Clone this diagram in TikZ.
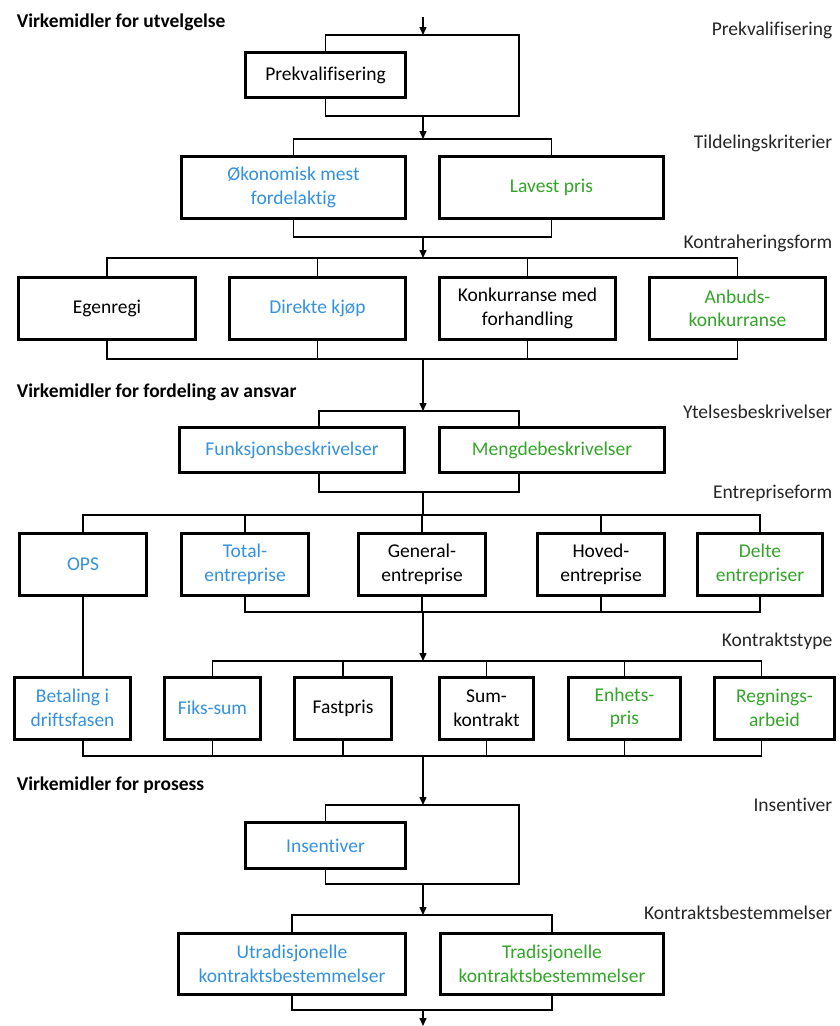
\documentclass[tikz,border=0pt]{standalone}
\usepackage{fontspec}
\setmainfont{Carlito}[Ligatures=NoCommon]
\usetikzlibrary{positioning,arrows.meta}
\definecolor{txtblue}{RGB}{52,145,222}
\definecolor{txtgreen}{RGB}{50,165,40}

\begin{document}
\begin{tikzpicture}[
    x=1pt, y=-1pt, line width=1.5pt,
    font=\fontsize{19.5}{23.5}\selectfont, >={Triangle[length=8pt,width=7pt]},
    blk/.style={draw, line width=3pt, align=center, inner sep=0pt, minimum height=62pt},
    hd/.style={anchor=west, inner sep=0pt, font=\fontsize{19.5}{23.5}\selectfont\bfseries},
    lbl/.style={anchor=east, inner sep=0pt, text=black!85}]
  \useasboundingbox (0,0) rectangle (839,1026);

  \node[hd] (h1) at (16,22) {Virkemidler for utvelgelse};
  \node[hd] (h2) at (16,392) {Virkemidler for fordeling av ansvar};
  \node[hd] (h3) at (16,785) {Virkemidler for prosess};

  \node[lbl] (l1) at (833,30) {Prekvalifisering};
  \node[lbl] (l2) at (833,143) {Tildelingskriterier};
  \node[lbl] (l3) at (833,243) {Kontraheringsform};
  \node[lbl] (l4) at (833,412) {Ytelsesbeskrivelser};
  \node[lbl] (l5) at (833,493) {Entrepriseform};
  \node[lbl] (l6) at (833,641) {Kontraktstype};
  \node[lbl] (l7) at (833,805) {Insentiver};
  \node[lbl] (l8) at (833,913) {Kontraktsbestemmelser};

  \node[blk, minimum width=160pt, minimum height=45pt] (prek) at (325.5,75) {Prekvalifisering};
  \node[blk, minimum width=224pt, text=txtblue] (okon) at (293.5,187.5) {Økonomisk mest\\fordelaktig};
  \node[blk, minimum width=224pt, text=txtgreen] (lav) at (551.5,187.5) {Lavest pris};

  \node[blk, minimum width=177pt] (egen) at (107,308.5) {Egenregi};
  \node[blk, minimum width=176pt, text=txtblue] (dir) at (317.5,308.5) {Direkte kjøp};
  \node[blk, minimum width=176pt] (konk) at (527.5,308.5) {Konkurranse med\\forhandling};
  \node[blk, minimum width=176pt, text=txtgreen] (anb) at (737.5,308.5) {Anbuds-\\konkurranse};

  \node[blk, minimum width=225pt, minimum height=45pt, text=txtblue] (funk) at (292,450) {Funksjonsbeskrivelser};
  \node[blk, minimum width=225pt, minimum height=45pt, text=txtgreen] (meng) at (552,450) {Mengdebeskrivelser};

  \node[blk, minimum width=127pt, text=txtblue] (ops) at (83,564.5) {OPS};
  \node[blk, minimum width=127pt, text=txtblue] (total) at (245,564.5) {Total-\\entreprise};
  \node[blk, minimum width=127pt] (gen) at (422,564.5) {General-\\entreprise};
  \node[blk, minimum width=127pt] (hov) at (601,564.5) {Hoved-\\entreprise};
  \node[blk, minimum width=125pt, text=txtgreen] (delte) at (760,564.5) {Delte\\entrepriser};

  \node[blk, minimum width=116pt, text=txtblue] (betal) at (72.5,708) {Betaling i\\driftsfasen};
  \node[blk, minimum width=96pt, text=txtblue] (fiks) at (212.5,708) {Fiks-sum};
  \node[blk, minimum width=97pt] (fast) at (343,708) {Fastpris};
  \node[blk, minimum width=94pt] (sum) at (486.5,708) {Sum-\\kontrakt};
  \node[blk, minimum width=112pt, text=txtgreen] (enh) at (624.5,708) {Enhets-\\pris};
  \node[blk, minimum width=120pt, text=txtgreen] (regn) at (774.5,708) {Regnings-\\arbeid};

  \node[blk, minimum width=160pt, minimum height=46pt, text=txtblue] (ins) at (325.5,845.5) {Insentiver};
  \node[blk, minimum width=227pt, minimum height=61pt, text=txtblue] (utr) at (292,964) {Utradisjonelle\\kontraktsbestemmelser};
  \node[blk, minimum width=223pt, minimum height=61pt, text=txtgreen] (trad) at (552,964) {Tradisjonelle\\kontraktsbestemmelser};

  \coordinate (c0) at (423,17);
  \coordinate (p1) at (423,35);  \coordinate (pt) at (519,35);
  \coordinate (p2) at (423,116); \coordinate (pb) at (519,116);
  \coordinate (t2) at (423,139); \coordinate (b2) at (423,237);
  \coordinate (t3) at (423,258); \coordinate (b3) at (423,359);
  \coordinate (ty) at (423,411); \coordinate (by) at (423,492);
  \coordinate (yl) at (319,411); \coordinate (yr) at (519,411);
  \coordinate (yl2) at (319,492); \coordinate (yr2) at (519,492);
  \coordinate (te) at (423,515); \coordinate (be) at (423,612);
  \coordinate (tk) at (423,661); \coordinate (bk) at (423,756);
  \coordinate (ti) at (423,805); \coordinate (it) at (519,805);
  \coordinate (bi) at (423,884); \coordinate (ib) at (519,884);
  \coordinate (tb) at (423,915); \coordinate (bb) at (423,1010);
  \coordinate (cend) at (423,1026);

  \draw[->] (c0) -- (p1);
  \draw (prek.north) |- (pt) -- (pb) -| (prek.south);
  \draw[->] (p2) -- (t2);

  \draw (okon.north) |- (t2) -| (lav.north);
  \draw (okon.south) |- (b2) -| (lav.south);
  \draw[->] (b2) -- (t3);

  \draw (egen.north) |- (t3) -| (anb.north);
  \draw (dir.north) -- (dir.north |- t3);
  \draw (konk.north) -- (konk.north |- t3);
  \draw (egen.south) |- (b3) -| (anb.south);
  \draw (dir.south) -- (dir.south |- b3);
  \draw (konk.south) -- (konk.south |- b3);
  \draw[->] (b3) -- (ty);

  \draw (yl |- funk.north) -- (yl) -- (yr) -- (yr |- meng.north);
  \draw (yl2 |- funk.south) -- (yl2) -- (yr2) -- (yr2 |- meng.south);
  \draw (by) -- (te);

  \draw (ops.north) |- (te) -| (delte.north);
  \draw (total.north) -- (total.north |- te);
  \draw (gen.north) -- (gen.north |- te);
  \draw (hov.north) -- (hov.north |- te);
  \draw (total.south) |- (be) -| (delte.south);
  \draw (gen.south) -- (gen.south |- be);
  \draw (hov.south) -- (hov.south |- be);
  \draw (ops.south) -- (ops.south |- betal.north);
  \draw[->] (be) -- (tk);

  \draw (fiks.north) |- (tk) -| ([xshift=-13pt]regn.north);
  \draw (fast.north) -- (fast.north |- tk);
  \draw (sum.north) -- (sum.north |- tk);
  \draw (enh.north) -- (enh.north |- tk);
  \draw (ops.south |- betal.south) |- (bk) -| ([xshift=-13pt]regn.south);
  \draw (fiks.south) -- (fiks.south |- bk);
  \draw (fast.south) -- (fast.south |- bk);
  \draw (sum.south) -- (sum.south |- bk);
  \draw (enh.south) -- (enh.south |- bk);
  \draw[->] (bk) -- (ti);

  \draw (ins.north) |- (it) -- (ib) -| (ins.south);
  \draw[->] (bi) -- (tb);

  \draw (utr.north) |- (tb) -| (trad.north);
  \draw (utr.south) |- (bb) -| (trad.south);
  \draw[->] (bb) -- (cend);
\end{tikzpicture}
\end{document}
